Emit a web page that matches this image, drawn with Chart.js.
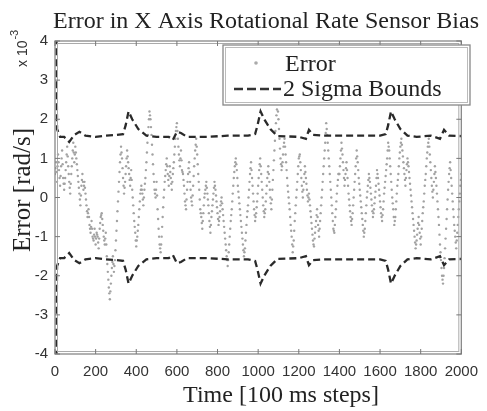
<!DOCTYPE html>
<html><head><meta charset="utf-8">
<script src="https://cdn.jsdelivr.net/npm/chart.js@4.4.0/dist/chart.umd.min.js"></script>
<style>html,body{margin:0;padding:0;background:#fff;}#wrap{width:487px;height:411px;}</style>
</head><body><div id="wrap"><canvas id="c" width="487" height="411"></canvas></div>
<script>
const titleText = 'Error in X Axis Rotational Rate Sensor Bias';
const xTitle = 'Time [100 ms steps]';
const yTitle = 'Error [rad/s]';
const xTicks = [0,200,400,600,800,1000,1200,1400,1600,1800,2000];
const yTicks = [-4,-3,-2,-1,0,1,2,3,4];
const legendLabels = ['Error', '2 Sigma Bounds'];

// Error samples (x 1e-3 rad/s), evenly spaced over 0..2000 steps
const errorValues = [
0.6,0.75,0.9,0.65,0.4,0.8,1.1,0.9,0.7,0.5,0.3,0.55,0.8,1.0,1.2,0.85,0.5,0.35,0.2,0.35,
0.5,0.7,0.9,1.1,1.3,1.05,0.8,0.6,0.4,0.25,0.1,0.35,0.6,0.8,1.0,1.2,1.4,1.15,0.9,1.1,
1.3,1.15,1.0,0.85,0.7,0.55,0.4,0.25,0.1,-0.05,-0.2,0.05,0.3,0.45,0.6,0.4,0.2,0.3,
0.4,0.25,0.1,-0.05,-0.2,-0.35,-0.5,-0.4,-0.3,-0.5,-0.7,-0.8,-0.9,-0.75,-0.6,-0.8,-1.0,-1.05,-1.1,-0.95,-0.8,-1.0,-1.2,-1.05,-0.9,-0.95,-1.0,-1.15,-1.3,-1.05,
-0.8,-0.65,-0.5,-0.45,-0.4,-0.55,-0.7,-0.85,-1.0,-1.1,-1.2,-1.05,-0.9,-1.2,-1.5,-1.7,
-1.9,-2.1,-2.3,-2.45,-2.6,-2.4,-2.2,-2.0,-1.8,-1.65,-1.5,-1.7,-1.9,-1.75,
-1.6,-1.35,-1.1,-0.85,-0.6,-0.35,-0.1,0.15,0.4,0.65,0.9,1.1,1.3,1.15,1.0,0.75,0.5,0.3,0.1,0.25,
0.4,0.6,0.8,1.0,1.2,1.05,0.9,0.75,0.6,0.45,0.3,0.5,0.7,0.45,
0.2,0.0,-0.2,-0.4,-0.6,-0.75,-0.9,-1.1,-1.25,-1.1,-1.0,-0.85,-0.7,-0.5,-0.3,-0.1,0.1,0.2,
0.3,0.2,0.1,-0.05,-0.2,0.0,0.2,0.35,
0.5,0.7,0.9,1.15,1.4,1.6,1.8,2.0,2.2,2.1,2.0,1.8,1.6,1.35,1.1,0.85,0.6,0.4,0.2,0.1,0.0,0.2,0.4,0.05,
-0.3,-0.55,-0.8,-1.0,-1.2,-1.3,-1.4,-1.2,-1.0,-0.75,
-0.5,-0.25,0.0,0.2,0.4,0.55,0.7,0.85,1.0,0.8,0.6,0.45,0.3,0.55,0.8,0.65,0.5,0.35,0.2,0.4,0.6,0.75,
0.9,1.1,1.3,1.5,1.7,1.8,1.9,1.7,1.5,1.3,1.1,0.95,0.8,1.0,1.2,0.95,0.7,0.65,0.6,0.45,
0.3,0.1,-0.1,-0.2,-0.3,-0.05,0.2,0.4,0.6,0.75,0.9,0.65,0.4,0.2,0.0,-0.1,-0.2,0.05,
0.3,0.55,0.8,1.0,1.2,1.35,1.5,1.3,1.1,0.85,0.6,0.4,0.2,-0.05,-0.3,-0.4,-0.5,-0.65,-0.8,-0.6,-0.4,-0.2,0.0,0.1,0.2,0.3,
0.4,0.25,0.1,-0.05,-0.2,-0.4,-0.6,-0.75,-0.9,-0.7,-0.5,-0.35,-0.2,-0.05,0.1,0.25,0.4,0.3,0.2,0.05,-0.1,-0.25,-0.4,-0.55,-0.7,-0.6,-0.5,-0.35,-0.2,-0.1,0.0,-0.15,-0.3,-0.45,-0.6,-0.75,
-0.9,-1.05,-1.2,-1.35,-1.5,-1.6,-1.75,-1.6,-1.4,-1.2,-1.0,-0.8,-0.6,-0.45,-0.3,-0.1,0.1,0.3,0.5,0.65,
0.8,0.9,1.0,0.85,0.7,0.5,0.3,0.15,0.0,-0.15,-0.3,-0.45,-0.6,-0.75,-0.9,-1.05,-1.2,-1.35,-1.5,-1.4,-1.3,-1.1,-0.9,-0.7,-0.5,-0.35,
-0.2,0.0,0.2,0.4,0.6,0.75,0.9,0.7,0.5,0.3,0.1,-0.1,-0.3,-0.45,-0.6,-0.5,-0.4,-0.25,
-0.1,0.1,0.3,0.5,0.7,0.85,1.0,0.8,0.6,0.4,0.2,0.0,-0.2,-0.35,-0.5,-0.4,-0.3,-0.1,0.1,0.3,0.5,0.65,0.8,0.6,0.4,0.2,
0.0,-0.15,-0.3,-0.05,0.2,0.45,0.7,0.95,1.2,1.45,1.7,1.9,2.1,2.25,2.4,2.2,2.0,1.75,1.5,1.25,1.0,0.85,0.7,0.8,0.9,1.1,
1.3,1.4,1.5,1.3,1.1,0.9,0.7,0.5,0.3,0.15,0.0,-0.15,-0.3,-0.5,-0.7,-0.85,-1.0,-1.2,-1.4,-1.25,-1.1,-0.85,-0.6,-0.4,
-0.2,0.0,0.2,0.4,0.6,0.8,1.0,1.05,1.1,0.9,0.7,0.5,0.3,0.15,0.0,0.2,0.4,0.6,0.8,0.65,0.5,0.35,0.2,0.05,-0.1,0.0,0.1,-0.05,
-0.2,-0.35,-0.5,-0.65,-0.8,-0.95,-1.1,-1.2,-1.25,-1.05,-0.9,-0.75,-0.6,-0.45,-0.3,-0.5,-0.7,-0.85,-1.0,-0.8,-0.6,-0.4,-0.2,0.0,
0.2,0.4,0.6,0.8,1.0,1.2,1.4,1.65,1.9,1.75,1.6,1.4,1.2,1.0,0.8,0.6,0.4,0.2,0.0,-0.2,-0.4,-0.6,-0.8,-0.85,
-0.9,-0.7,-0.5,-0.3,-0.1,0.1,0.3,0.45,0.6,0.6,
0.6,0.8,1.0,1.2,1.4,1.25,1.1,0.9,0.7,0.5,0.3,0.45,0.6,0.75,0.9,0.7,0.5,0.3,0.1,-0.05,-0.2,-0.35,-0.5,-0.6,-0.7,-0.55,-0.4,-0.2,0.0,0.2,0.4,0.6,0.8,1.0,1.2,1.05,0.9,0.7,0.5,0.35,
0.2,0.05,-0.1,-0.25,-0.4,-0.55,-0.7,-0.85,-1.0,-0.9,-0.8,-0.6,-0.4,-0.2,0.0,0.15,0.3,0.45,0.6,0.5,0.4,0.25,0.1,-0.05,-0.2,-0.35,-0.5,-0.4,-0.3,-0.15,0.0,0.15,0.3,0.5,0.7,0.6,0.5,0.35,0.2,0.05,-0.1,-0.25,-0.4,-0.5,-0.6,-0.45,-0.3,-0.1,0.1,0.25,0.4,0.55,
0.7,0.85,1.0,1.2,1.4,1.3,1.2,1.0,0.8,0.6,0.4,0.2,0.0,-0.15,-0.3,-0.5,-0.7,-0.6,-0.5,-0.3,-0.1,0.1,0.3,0.45,0.6,0.8,1.0,1.15,
1.3,1.4,1.5,1.35,1.2,1.05,0.9,0.75,0.6,0.45,0.3,0.5,0.7,0.85,1.0,0.9,0.8,0.65,0.5,0.35,0.2,0.05,
-0.1,-0.25,-0.4,-0.55,-0.7,-0.85,-1.0,-1.15,-1.3,-1.2,-1.1,-0.95,-0.8,-0.65,-0.5,-0.7,-0.9,-1.05,-1.2,-1.0,-0.8,-0.6,-0.4,-0.25,-0.1,0.1,0.3,0.45,
0.6,0.8,1.0,1.15,1.3,1.4,1.5,1.3,1.1,0.9,0.7,0.5,0.3,0.15,0.0,0.2,0.4,0.6,0.8,0.65,0.5,0.3,0.1,-0.1,
-0.3,-0.5,-0.7,-0.95,-1.2,-1.4,-1.6,-1.8,-2.0,-2.1,-2.2,-2.0,-1.8,-1.55,-1.3,-1.05,-0.8,-0.55,-0.3,-0.05,0.2,0.4,0.6,0.75,
0.9,0.7,0.5,0.3,0.1,-0.1,-0.3,-0.5,-0.7,-0.85,-1.0,-1.15,-1.3,-1.1,-0.9,-0.7,-0.5,-0.3,-0.1,0.1,0.3,0.45,0.6
];

const boundSteps = [0,10,25,45,70,95,120,150,200,250,300,335,348,362,380,410,450,500,560,580,600,620,650,750,850,950,985,997,1012,1030,1060,1095,1200,1235,1250,1270,1320,1450,1600,1628,1640,1654,1672,1700,1735,1780,1850,1895,1915,1940,2000];
const upperBound = [10,1.75,1.55,1.55,1.42,1.6,1.68,1.58,1.55,1.58,1.6,1.62,1.85,2.2,2.0,1.75,1.58,1.55,1.55,1.47,1.68,1.65,1.55,1.55,1.58,1.58,1.62,1.85,2.2,2.0,1.75,1.57,1.55,1.5,1.73,1.6,1.58,1.58,1.58,1.62,1.85,2.2,2.0,1.75,1.58,1.55,1.58,1.5,1.73,1.58,1.57];
const lowerBound = [-10,-1.75,-1.55,-1.55,-1.42,-1.6,-1.68,-1.58,-1.55,-1.58,-1.6,-1.62,-1.85,-2.2,-2.0,-1.75,-1.58,-1.55,-1.55,-1.47,-1.68,-1.65,-1.55,-1.55,-1.58,-1.58,-1.62,-1.85,-2.2,-2.0,-1.75,-1.57,-1.55,-1.5,-1.73,-1.6,-1.58,-1.58,-1.58,-1.62,-1.85,-2.2,-2.0,-1.75,-1.58,-1.55,-1.58,-1.5,-1.73,-1.58,-1.57];

const SERIF = "'Liberation Serif','Times New Roman',serif";
const TICKFONT = "'Liberation Sans Narrow','Liberation Sans',sans-serif";
const xMax = xTicks[xTicks.length-1];
const errorData = errorValues.map((v,i)=>({x: i*xMax/(errorValues.length-1), y: v}));
const upperData = boundSteps.map((s,i)=>({x:s, y:upperBound[i]}));
const lowerData = boundSteps.map((s,i)=>({x:s, y:lowerBound[i]}));

const decor = {
  id:'decor',
  afterDatasetsDraw(chart){
    const ctx = chart.ctx, a = chart.chartArea, xs = chart.scales.x, ys = chart.scales.y;
    ctx.save();
    ctx.strokeStyle = '#888'; ctx.lineWidth = 1.3;
    ctx.strokeRect(a.left, a.top, a.right-a.left, a.bottom-a.top);
    ctx.strokeStyle = '#aaa'; ctx.lineWidth = 1;
    ctx.strokeRect(a.left+2.5, a.top+2.5, a.right-a.left-5, a.bottom-a.top-5);
    ctx.strokeStyle = '#777'; ctx.lineWidth = 1;
    ctx.beginPath();
    xTicks.forEach(t=>{const p = xs.getPixelForValue(t);
      ctx.moveTo(p, a.bottom); ctx.lineTo(p, a.bottom-5);
      ctx.moveTo(p, a.top); ctx.lineTo(p, a.top+5);});
    yTicks.forEach(t=>{const p = ys.getPixelForValue(t);
      ctx.moveTo(a.left, p); ctx.lineTo(a.left+5, p);
      ctx.moveTo(a.right, p); ctx.lineTo(a.right-5, p);});
    ctx.stroke();
    const L = {x:223, y:45, w:247, h:60};
    ctx.fillStyle = '#fff'; ctx.fillRect(L.x, L.y, L.w, L.h);
    ctx.strokeStyle = '#888'; ctx.lineWidth = 1.3; ctx.strokeRect(L.x, L.y, L.w, L.h);
    ctx.strokeStyle = '#bbb'; ctx.lineWidth = 1; ctx.strokeRect(L.x+2.5, L.y+2.5, L.w-5, L.h-5);
    ctx.fillStyle = '#aaa'; ctx.beginPath(); ctx.arc(256, 63, 1.8, 0, Math.PI*2); ctx.fill();
    ctx.strokeStyle = '#333'; ctx.lineWidth = 2.5; ctx.setLineDash([9,4]);
    ctx.beginPath(); ctx.moveTo(234, 89); ctx.lineTo(281, 89); ctx.stroke();
    ctx.setLineDash([]);
    ctx.fillStyle = '#222'; ctx.font = '24px ' + SERIF; ctx.textBaseline = 'alphabetic'; ctx.textAlign = 'left';
    ctx.fillText(legendLabels[0], 285, 71);
    ctx.fillText(legendLabels[1], 283, 96);
    ctx.restore();
  },
  afterDraw(chart){
    const ctx = chart.ctx;
    ctx.save();
    ctx.fillStyle = '#222';
    ctx.font = '24px ' + SERIF; ctx.textAlign = 'center'; ctx.textBaseline = 'alphabetic';
    ctx.fillText(titleText, 266, 28);
    ctx.fillText(xTitle, 281, 402);
    ctx.save();
    ctx.translate(30, 190); ctx.rotate(-Math.PI/2);
    ctx.font = '25px ' + SERIF; ctx.fillText(yTitle, 0, 0);
    ctx.restore();
    ctx.save();
    ctx.translate(27, 67); ctx.rotate(-Math.PI/2);
    ctx.fillStyle = '#333'; ctx.textAlign = 'left';
    ctx.font = '14px ' + TICKFONT; ctx.fillText('x 10', 0, 0);
    const w = ctx.measureText('x 10').width;
    ctx.font = '11px ' + TICKFONT; ctx.fillText('-3', w + 1, -9);
    ctx.restore();
    ctx.restore();
  }
};

new Chart(document.getElementById('c'), {
  type: 'scatter',
  data: { datasets: [
    { label: legendLabels[0], data: errorData, showLine:false, pointRadius:1.2, pointHoverRadius:1.2,
      pointBackgroundColor:'#a2a2a2', pointBorderWidth:0, order:2 },
    { label: legendLabels[1], data: upperData, showLine:true, pointRadius:0, borderColor:'#2a2a2a',
      borderWidth:2.3, borderDash:[7,4], tension:0, fill:false, order:1 },
    { label: legendLabels[1], data: lowerData, showLine:true, pointRadius:0, borderColor:'#2a2a2a',
      borderWidth:2.3, borderDash:[7,4], tension:0, fill:false, order:1 }
  ]},
  options: {
    responsive:false, animation:false, devicePixelRatio:1,
    layout:{ padding:{ left:0, right:12, top:41, bottom:0 } },
    plugins:{ legend:{display:false}, title:{display:false}, tooltip:{enabled:false} },
    scales:{
      x:{ type:'linear', min:0, max:xMax,
        afterBuildTicks(s){ s.ticks = xTicks.map(v=>({value:v})); },
        afterFit(s){ s.height = 57; },
        grid:{display:false, drawTicks:false}, border:{display:false},
        ticks:{ autoSkip:false, maxRotation:0, padding:9, color:'#333', callback:v=>String(v),
          font:{family:TICKFONT, size:15} } },
      y:{ type:'linear', min:-4, max:4,
        afterBuildTicks(s){ s.ticks = yTicks.map(v=>({value:v})); },
        afterFit(s){ s.width = 55; },
        grid:{display:false, drawTicks:false}, border:{display:false},
        ticks:{ padding:7, color:'#333', callback:v=>String(v), font:{family:TICKFONT, size:15} } }
    }
  },
  plugins:[decor]
});
</script></body></html>
